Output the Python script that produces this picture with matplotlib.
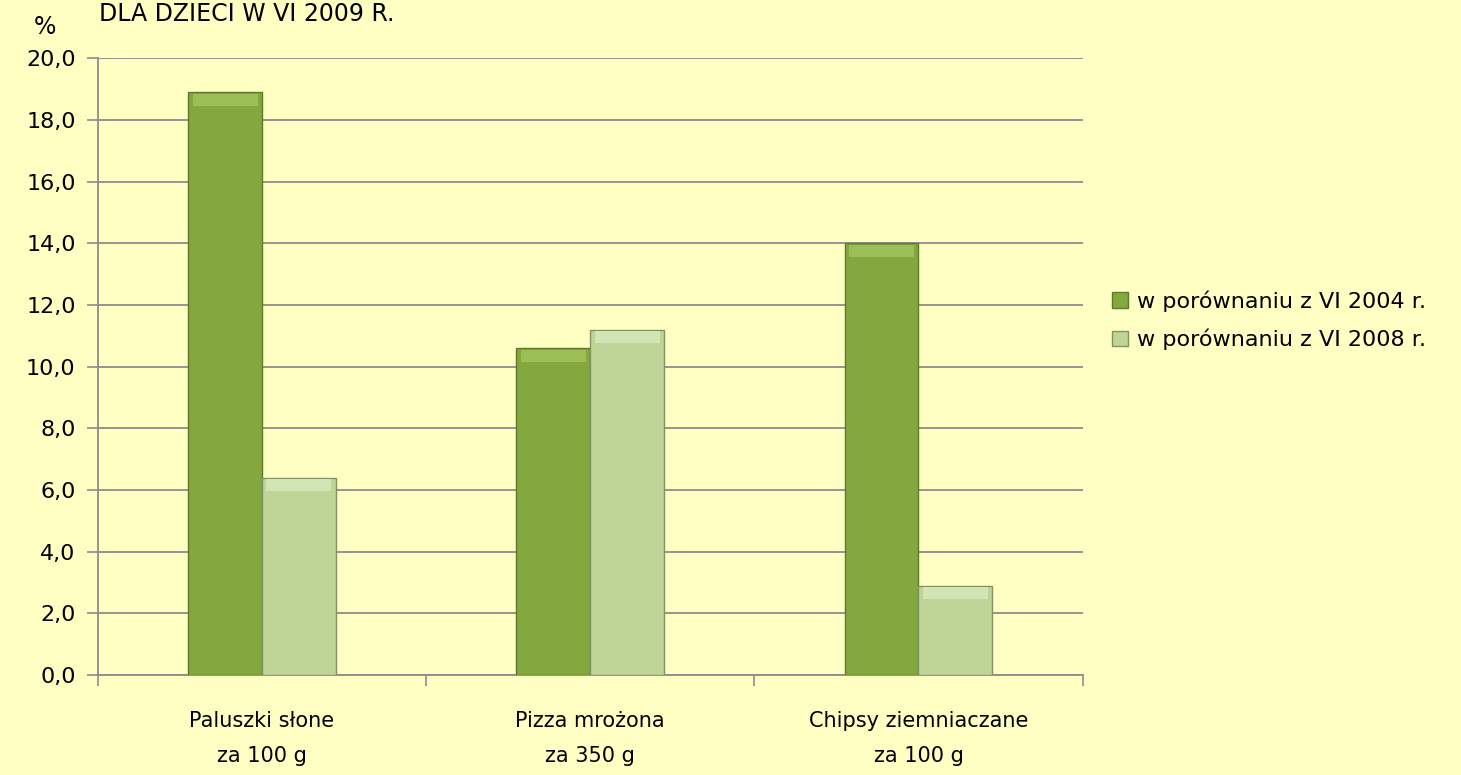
import numpy as np
import matplotlib.pyplot as plt
from matplotlib.ticker import FuncFormatter, FixedLocator

categories = ['Paluszki słone\nza 100 g', 'Pizza mrożona\nza 350 g', 'Chipsy ziemniaczane\nza 100 g']
series_names = ['w porównaniu z VI 2004 r.', 'w porównaniu z VI 2008 r.']
vs_2004 = [18.9, 10.6, 14.0]
vs_2008 = [6.4, 11.2, 2.9]

BG = '#FFFFC3'
DARK = '#84A83E'
LIGHT = '#BFD597'

plt.rcParams['font.family'] = ['DejaVu Sans']
fig = plt.figure(figsize=(14.61, 7.75), dpi=100, facecolor=BG)
ax = fig.add_axes([0.067, 0.129, 0.674, 0.796], facecolor=BG)

x = np.arange(len(categories))
w = 0.225
b1 = ax.bar(x - w / 2, vs_2004, w, color=DARK, edgecolor='#5E7A2A', linewidth=1.0,
            label=series_names[0], zorder=3)
b2 = ax.bar(x + w / 2, vs_2008, w, color=LIGHT, edgecolor='#7F9460', linewidth=1.0,
            label=series_names[1], zorder=3)

# fake bevel: lighter top strip on each bar
for bars, c in ((b1, '#9DBE55'), (b2, '#D3E5B4')):
    for r in bars:
        ax.bar(r.get_x() + r.get_width() / 2, 0.4, r.get_width() * 0.88,
               bottom=r.get_height() - 0.45, color=c, linewidth=0, zorder=4)

ax.set_xlim(-0.5, len(categories) - 0.5)
ax.set_ylim(0, 20)
ax.set_yticks(np.arange(0, 21, 2))
ax.yaxis.set_major_formatter(FuncFormatter(lambda v, p: f'{v:.1f}'.replace('.', ',')))
ax.yaxis.grid(True, color='#8C8C8C', linewidth=1.3, zorder=0)

ax.set_xticks(x)
ax.set_xticklabels(categories, fontsize=15, linespacing=1.95)
ax.xaxis.set_minor_locator(FixedLocator(np.arange(-0.5, len(categories), 1.0)))
ax.tick_params(axis='x', which='major', length=0, pad=26)
ax.tick_params(axis='x', which='minor', length=8, color='#8C8C8C', width=1.2)
ax.tick_params(axis='y', length=8, color='#8C8C8C', width=1.2, labelsize=16, pad=8)

for s in ['top', 'right']:
    ax.spines[s].set_visible(False)
for s in ['left', 'bottom']:
    ax.spines[s].set_color('#8C8C8C')
    ax.spines[s].set_linewidth(1.3)

fig.text(0.031, 0.965, '%', fontsize=17, ha='center', va='center')
fig.text(0.068, 0.998, 'DLA DZIECI W VI 2009 R.', fontsize=17, ha='left', va='top')

leg = ax.legend(loc='center left', bbox_to_anchor=(1.01, 0.575), frameon=False,
                fontsize=16, handlelength=0.7, handleheight=0.7, handletextpad=0.4,
                labelspacing=0.75)

fig.savefig('out.png', dpi=100, facecolor=BG)
